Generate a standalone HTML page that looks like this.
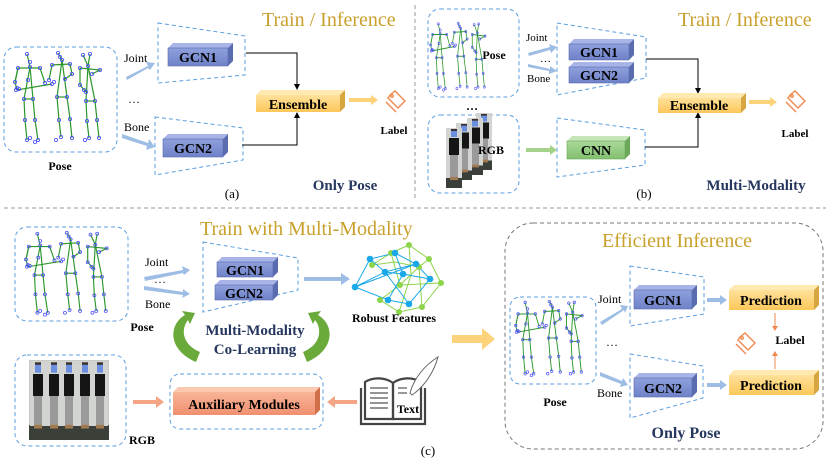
<!DOCTYPE html>
<html><head><meta charset="utf-8"><style>
html,body{margin:0;padding:0;background:#fff;}
svg{display:block;}
text{font-family:"Liberation Serif",serif;}
.b{font-weight:bold;}
</style></head><body>
<svg width="830" height="467" viewBox="0 0 830 467" xmlns="http://www.w3.org/2000/svg">
<defs>
<linearGradient id="gb" x1="0" y1="0" x2="0" y2="1"><stop offset="0" stop-color="#8fa0dc"/><stop offset="1" stop-color="#6f82c8"/></linearGradient>
<linearGradient id="gy" x1="0" y1="0" x2="0" y2="1"><stop offset="0" stop-color="#ffe19a"/><stop offset="1" stop-color="#fcc75a"/></linearGradient>
<linearGradient id="gg" x1="0" y1="0" x2="0" y2="1"><stop offset="0" stop-color="#a9d99a"/><stop offset="1" stop-color="#83c070"/></linearGradient>
<linearGradient id="go" x1="0" y1="0" x2="0" y2="1"><stop offset="0" stop-color="#f9b497"/><stop offset="1" stop-color="#f09070"/></linearGradient>
<g id="sk" transform="translate(-14,-50)" fill="none">
 <g stroke="#2a962a" stroke-width="1.2">
  <polyline points="27,54 30,67 24,99 25,120 27,140"/><polyline points="30,67 33,99 35,120 38,140"/>
  <polyline points="15,82 18,68 40,68 45,83"/><polyline points="18,68 15,82 17,90 52,84"/><line x1="24" y1="99" x2="33" y2="99"/>
  <polyline points="58,53 62,60 57,97 59,120 61,137"/><polyline points="62,60 67,97 70,119 72,138"/>
  <polyline points="49,80 52,65 70,64 72,74 65,79"/><line x1="57" y1="97" x2="67" y2="97"/>
  <polyline points="83,55 88,66 86,101 87,121 89,138"/><polyline points="90,54 88,66"/><polyline points="88,66 95,101 97,120 99,138"/>
  <polyline points="86,92 80,85 80,68 100,70 92,74"/><line x1="86" y1="101" x2="95" y2="101"/>
 </g>
 <g stroke="#4a4aff" stroke-width="0.8">
  <circle cx="27" cy="54" r="1.6"/><circle cx="30" cy="62" r="1.6"/><circle cx="30" cy="67" r="1.6"/><circle cx="18" cy="68" r="1.6"/><circle cx="40" cy="68" r="1.6"/><circle cx="15" cy="82" r="1.6"/><circle cx="17" cy="88" r="1.6"/><circle cx="16" cy="90" r="1.6"/><circle cx="19" cy="89" r="1.6"/><circle cx="45" cy="83" r="1.6"/><circle cx="28" cy="80" r="1.6"/><circle cx="24" cy="99" r="1.6"/><circle cx="33" cy="99" r="1.6"/><circle cx="25" cy="120" r="1.6"/><circle cx="35" cy="120" r="1.6"/><circle cx="27" cy="140" r="1.6"/><circle cx="38" cy="140" r="1.6"/><circle cx="30" cy="138" r="1.6"/><circle cx="35" cy="142" r="1.6"/>
  <circle cx="58" cy="53" r="1.6"/><circle cx="60" cy="57" r="1.6"/><circle cx="62" cy="60" r="1.6"/><circle cx="52" cy="65" r="1.6"/><circle cx="70" cy="64" r="1.6"/><circle cx="49" cy="80" r="1.6"/><circle cx="52" cy="84" r="1.6"/><circle cx="54" cy="82" r="1.6"/><circle cx="72" cy="74" r="1.6"/><circle cx="65" cy="79" r="1.6"/><circle cx="57" cy="97" r="1.6"/><circle cx="67" cy="97" r="1.6"/><circle cx="59" cy="120" r="1.6"/><circle cx="70" cy="119" r="1.6"/><circle cx="61" cy="137" r="1.6"/><circle cx="72" cy="138" r="1.6"/><circle cx="56" cy="140" r="1.6"/>
  <circle cx="83" cy="55" r="1.6"/><circle cx="90" cy="54" r="1.6"/><circle cx="88" cy="66" r="1.6"/><circle cx="80" cy="68" r="1.6"/><circle cx="100" cy="70" r="1.6"/><circle cx="80" cy="85" r="1.6"/><circle cx="86" cy="92" r="1.6"/><circle cx="84" cy="90" r="1.6"/><circle cx="92" cy="74" r="1.6"/><circle cx="86" cy="101" r="1.6"/><circle cx="95" cy="101" r="1.6"/><circle cx="87" cy="121" r="1.6"/><circle cx="97" cy="120" r="1.6"/><circle cx="89" cy="138" r="1.6"/><circle cx="99" cy="138" r="1.6"/><circle cx="85" cy="140" r="1.6"/>
 </g>
</g>
<g id="person">
 <rect x="0" y="0" width="16" height="60" fill="#d2d4d2"/>
 <rect x="5" y="1" width="6" height="2" fill="#3a3030"/>
 <rect x="5" y="3" width="6" height="6" fill="#6a8fe0"/>
 <rect x="3" y="10" width="10" height="17" fill="#151515"/>
 <rect x="4" y="27" width="8" height="22" fill="#9a9a9a"/>
 <rect x="0" y="50" width="16" height="10" fill="#3a3f3a"/>
 <rect x="4" y="49" width="8" height="3" fill="#a07a50"/>
</g>
<g id="tag" fill="none" stroke="#f08a50" stroke-width="1.4">
 <path d="M0,-5 L5,-9 L15,1 L8,8 L-2,-2 Z"/><circle cx="2" cy="-4" r="1.3"/><path d="M-4,2 L6,12"/>
</g>
</defs>

<!-- dividers -->
<line x1="415" y1="5" x2="415" y2="200" stroke="#999" stroke-dasharray="4,3"/>
<line x1="4" y1="208" x2="826" y2="208" stroke="#999" stroke-dasharray="4,3"/>

<!-- ===== (a) ===== -->
<text x="262" y="26" font-size="20" fill="#c9a02c">Train / Inference</text>
<rect x="4" y="47" width="113" height="105" rx="12" fill="none" stroke="#5a9ee0" stroke-dasharray="4,3"/>
<use href="#sk" transform="translate(14,50)"/>
<text x="60" y="170" font-size="12" text-anchor="middle" class="b">Pose</text>
<text x="124" y="62" font-size="12">Joint</text>
<text x="128" y="103" font-size="12">…</text>
<text x="124" y="131" font-size="12">Bone</text>
<path d="M126,77 L148,66 L146,62 L155,63 L150,70 L148,68 L127,80 Z" fill="#9dbde4"/>
<path d="M122,134 L148,143 L149,139 L155,147 L146,150 L147,146 L122,138 Z" fill="#9dbde4"/>
<path d="M158,23 L245,36 L245,75 L158,83 Z" fill="none" stroke="#5a9ee0" stroke-dasharray="4,3"/>
<path d="M155,117 L243,128 L243,160 L155,175 Z" fill="none" stroke="#5a9ee0" stroke-dasharray="4,3"/>
<g><polygon points="168,48 173,43 233,43 228,48" fill="#a8b4e8"/><polygon points="228,48 233,43 233,61 228,66" fill="#5a6cb0"/><rect x="168" y="48" width="60" height="18" fill="url(#gb)" stroke="#5a6cb0" stroke-width="0.6"/><text x="198" y="62" font-size="14" text-anchor="middle" class="b">GCN1</text></g>
<g><polygon points="163,139 168,134 228,134 223,139" fill="#a8b4e8"/><polygon points="223,139 228,134 228,152 223,157" fill="#5a6cb0"/><rect x="163" y="139" width="60" height="18" fill="url(#gb)" stroke="#5a6cb0" stroke-width="0.6"/><text x="193" y="153" font-size="14" text-anchor="middle" class="b">GCN2</text></g>
<polyline points="246,53 297,53 297,87" fill="none" stroke="#000"/><polygon points="294,84 300,84 297,90" fill="#000"/>
<polyline points="242,145 297,145 297,115" fill="none" stroke="#000"/><polygon points="294,118 300,118 297,112" fill="#000"/>
<g><polygon points="256,95 261,90 345,90 340,95" fill="#ffe9b0"/><polygon points="340,95 345,90 345,107 340,112" fill="#d8a640"/><rect x="256" y="95" width="84" height="17" fill="url(#gy)"/><text x="298" y="109" font-size="14" text-anchor="middle" class="b">Ensemble</text></g>
<path d="M349,98 L371,98 L371,95 L378,100 L371,105 L371,102 L349,102 Z" fill="#fcd27a"/>
<use href="#tag" transform="translate(390,100)"/>
<text x="394" y="134" font-size="11" text-anchor="middle" class="b">Label</text>
<text x="345" y="190" font-size="15" text-anchor="middle" class="b" fill="#26375f">Only Pose</text>
<text x="232" y="198" font-size="13" text-anchor="middle">(a)</text>

<!-- ===== (b) ===== -->
<text x="678" y="26" font-size="20" fill="#c9a02c">Train / Inference</text>
<rect x="428" y="9" width="91" height="88" rx="12" fill="none" stroke="#5a9ee0" stroke-dasharray="4,3"/>
<use href="#sk" transform="translate(430,21) scale(0.64,0.75)"/>
<text x="494" y="59" font-size="12" text-anchor="middle" class="b">Pose</text>
<text x="472" y="110" font-size="12" text-anchor="middle" class="b">…</text>
<rect x="428" y="115" width="91" height="78" rx="12" fill="none" stroke="#5a9ee0" stroke-dasharray="4,3"/>
<use href="#person" transform="translate(476,113) scale(1,0.95)"/>
<use href="#person" transform="translate(467,118) scale(1,0.95)"/>
<use href="#person" transform="translate(456,123) scale(1,0.95)"/>
<use href="#person" transform="translate(446,128) scale(1,1)"/>
<text x="491" y="154" font-size="12" text-anchor="middle" class="b">RGB</text>
<text x="526" y="41" font-size="11">Joint</text>
<text x="540" y="62" font-size="11">…</text>
<text x="527" y="82" font-size="11">Bone</text>
<path d="M528,53 L550,47 L549,44 L557,47 L551,53 L550,50 L529,56 Z" fill="#9dbde4"/>
<path d="M528,64 L550,69 L550,66 L557,71 L549,74 L549,71 L528,67 Z" fill="#9dbde4"/>
<path d="M557,23 L646,37 L646,78 L557,95 Z" fill="none" stroke="#5a9ee0" stroke-dasharray="4,3"/>
<g><polygon points="569,44 574,39 634,39 629,44" fill="#a8b4e8"/><polygon points="629,44 634,39 634,55 629,60" fill="#5a6cb0"/><rect x="569" y="44" width="60" height="16" fill="url(#gb)" stroke="#5a6cb0" stroke-width="0.6"/><text x="599" y="57" font-size="14" text-anchor="middle" class="b">GCN1</text></g>
<g><polygon points="569,67 574,62 634,62 629,67" fill="#a8b4e8"/><polygon points="629,67 634,62 634,78 629,83" fill="#5a6cb0"/><rect x="569" y="67" width="60" height="16" fill="url(#gb)" stroke="#5a6cb0" stroke-width="0.6"/><text x="599" y="80" font-size="14" text-anchor="middle" class="b">GCN2</text></g>
<path d="M557,118 L645,130 L645,165 L557,177 Z" fill="none" stroke="#5a9ee0" stroke-dasharray="4,3"/>
<path d="M526,148 L550,148 L550,145 L557,150 L550,155 L550,152 L526,152 Z" fill="#a5d28a"/>
<g><polygon points="567,141 572,136 630,136 625,141" fill="#c6e6b8"/><polygon points="625,141 630,136 630,154 625,159" fill="#6aa85a"/><rect x="567" y="141" width="58" height="18" fill="url(#gg)" stroke="#6aa85a" stroke-width="0.6"/><text x="596" y="155" font-size="14" text-anchor="middle" class="b">CNN</text></g>
<polyline points="646,59 698,59 698,90" fill="none" stroke="#000"/><polygon points="695,88 701,88 698,94" fill="#000"/>
<polyline points="645,147 698,147 698,116" fill="none" stroke="#000"/><polygon points="695,118 701,118 698,112" fill="#000"/>
<g><polygon points="658,98 663,93 746,93 741,98" fill="#ffe9b0"/><polygon points="741,98 746,93 746,108 741,113" fill="#d8a640"/><rect x="658" y="98" width="83" height="15" fill="url(#gy)"/><text x="699" y="110" font-size="14" text-anchor="middle" class="b">Ensemble</text></g>
<path d="M749,100 L770,100 L770,97 L777,102 L770,107 L770,104 L749,104 Z" fill="#fcd27a"/>
<use href="#tag" transform="translate(790,100)"/>
<text x="795" y="137" font-size="11" text-anchor="middle" class="b">Label</text>
<text x="756" y="190" font-size="15" text-anchor="middle" class="b" fill="#26375f">Multi-Modality</text>
<text x="644" y="198" font-size="13" text-anchor="middle">(b)</text>

<!-- ===== (c) left ===== -->
<text x="200" y="235" font-size="20" fill="#c9a02c">Train with Multi-Modality</text>
<rect x="15" y="227" width="113" height="94" rx="12" fill="none" stroke="#5a9ee0" stroke-dasharray="4,3"/>
<use href="#sk" transform="translate(25,230) scale(0.95,0.92)"/>
<text x="142" y="331" font-size="12" text-anchor="middle" class="b">Pose</text>
<text x="145" y="266" font-size="12">Joint</text>
<text x="154" y="283" font-size="12">…</text>
<text x="145" y="308" font-size="12">Bone</text>
<path d="M144,277 L183,270 L182,266 L190,270 L184,275 L183,273 L145,281 Z" fill="#9dbde4"/>
<path d="M144,286 L183,292 L183,289 L190,294 L182,298 L183,295 L144,290 Z" fill="#9dbde4"/>
<path d="M203,242 L298,258 L298,290 L203,312 Z" fill="none" stroke="#5a9ee0" stroke-dasharray="4,3"/>
<g><polygon points="217,262 222,257 278,257 273,262" fill="#a8b4e8"/><polygon points="273,262 278,257 278,272 273,277" fill="#5a6cb0"/><rect x="217" y="262" width="56" height="15" fill="url(#gb)" stroke="#5a6cb0" stroke-width="0.6"/><text x="245" y="275" font-size="14" text-anchor="middle" class="b">GCN1</text></g>
<g><polygon points="215,285 220,280 278,280 273,285" fill="#a8b4e8"/><polygon points="273,285 278,280 278,295 273,300" fill="#5a6cb0"/><rect x="215" y="285" width="58" height="15" fill="url(#gb)" stroke="#5a6cb0" stroke-width="0.6"/><text x="244" y="298" font-size="14" text-anchor="middle" class="b">GCN2</text></g>
<path d="M304,277 L341,277 L341,273 L350,279 L341,285 L341,281 L304,281 Z" fill="#9dbde4"/>
<!-- network -->
<g stroke-width="1">
 <g stroke="#8cd44a" fill="none"><polyline points="372,265 391,253 409,245 429,259 441,283 422,307 399,312 380,300"/><polyline points="372,265 395,262 419,267 429,259"/><polyline points="380,300 400,285 419,267 422,307"/><polyline points="391,253 400,285 441,283"/><polyline points="409,245 411,275 399,312"/></g>
 <g stroke="#1aa8e8" fill="none"><polyline points="355,287 370,259 395,253 416,264 430,279 409,304 388,300 355,287"/><polyline points="370,259 385,272 416,264"/><polyline points="355,287 385,272 409,304"/><polyline points="395,253 403,274 430,279"/><polyline points="388,300 403,274 385,272"/><line x1="355" y1="287" x2="416" y2="264"/></g>
 <g fill="#8cd44a"><circle cx="372" cy="265" r="3"/><circle cx="391" cy="253" r="3"/><circle cx="409" cy="245" r="3"/><circle cx="429" cy="259" r="3"/><circle cx="441" cy="283" r="3"/><circle cx="422" cy="307" r="3"/><circle cx="399" cy="312" r="3"/><circle cx="380" cy="300" r="3"/><circle cx="419" cy="267" r="3"/><circle cx="400" cy="285" r="3"/></g>
 <g fill="#1aa8e8"><circle cx="355" cy="287" r="3.3"/><circle cx="370" cy="259" r="3.3"/><circle cx="395" cy="253" r="3.3"/><circle cx="416" cy="264" r="3.3"/><circle cx="430" cy="279" r="3.3"/><circle cx="409" cy="304" r="3.3"/><circle cx="388" cy="300" r="3.3"/><circle cx="385" cy="272" r="3.3"/><circle cx="403" cy="274" r="3.3"/></g>
</g>
<text x="394" y="322" font-size="12" text-anchor="middle" class="b">Robust Features</text>
<!-- co-learning arrows -->
<path d="M196,362 C168,350 168,325 185,315 L182,311 L195,313 L190,324 L188,320 C180,330 183,345 200,352 Z" fill="#6aaa3a"/>
<path d="M307,362 C335,350 335,325 318,315 L321,311 L308,313 L313,324 L315,320 C323,330 320,345 303,352 Z" fill="#6aaa3a"/>
<text x="255" y="335" font-size="15" text-anchor="middle" class="b" fill="#26375f">Multi-Modality</text>
<text x="255" y="354" font-size="15" text-anchor="middle" class="b" fill="#26375f">Co-Learning</text>
<!-- RGB -->
<rect x="15" y="355" width="111" height="91" rx="12" fill="none" stroke="#5a9ee0" stroke-dasharray="4,3"/>
<rect x="29" y="360" width="80" height="80" fill="#c8cac6"/>
<rect x="29" y="425" width="80" height="15" fill="#3a4038"/>
<use href="#person" transform="translate(30,361) scale(1,1.3)"/>
<use href="#person" transform="translate(46,361) scale(1,1.3)"/>
<use href="#person" transform="translate(61,361) scale(1,1.3)"/>
<use href="#person" transform="translate(77,361) scale(1,1.3)"/>
<use href="#person" transform="translate(92,361) scale(1,1.3)"/>
<text x="142" y="444" font-size="12" text-anchor="middle" class="b">RGB</text>
<path d="M133,400 L156,400 L156,396 L164,402 L156,408 L156,404 L133,404 Z" fill="#f4a585"/>
<rect x="170" y="374" width="153" height="55" rx="10" fill="none" stroke="#5a9ee0" stroke-dasharray="4,3"/>
<g><polygon points="173,392 178,387 320,387 315,392" fill="#fbc8b0"/><polygon points="315,392 320,387 320,410 315,415" fill="#d0704a"/><rect x="173" y="392" width="142" height="23" fill="url(#go)"/><text x="244" y="409" font-size="14" text-anchor="middle" class="b">Auxiliary Modules</text></g>
<path d="M357,400 L335,400 L335,396 L327,402 L335,408 L335,404 L357,404 Z" fill="#f4a585"/>
<!-- book -->
<g fill="none" stroke="#444" stroke-width="2.2">
 <path d="M365,382 L365,419 L393,419 L393,383 C385,377 373,377 365,382 Z"/>
 <path d="M421,382 L421,419 L393,419 L393,383 C401,377 413,377 421,382 Z"/>
 <path d="M361,388 L361,424 L425,424 L425,388"/>
</g>
<g stroke="#555" stroke-width="1.2"><line x1="370" y1="388" x2="388" y2="388"/><line x1="370" y1="393" x2="388" y2="393"/><line x1="370" y1="398" x2="388" y2="398"/><line x1="370" y1="403" x2="388" y2="403"/><line x1="370" y1="408" x2="388" y2="408"/><line x1="398" y1="388" x2="407" y2="388"/><line x1="398" y1="393" x2="407" y2="393"/></g>
<path d="M410,393 C414,378 425,365 438,357 C434,372 424,387 412,395 Z" fill="#fff" stroke="#666" stroke-width="1"/>
<text x="408" y="413" font-size="12" text-anchor="middle" class="b">Text</text>
<text x="428" y="455" font-size="13" text-anchor="middle">(c)</text>
<!-- big yellow arrow -->
<path d="M452,335 L482,335 L482,328 L495,339 L482,350 L482,343 L452,343 Z" fill="#fcd27a"/>

<!-- ===== right panel ===== -->
<rect x="505" y="223" width="318" height="226" rx="28" fill="none" stroke="#777" stroke-dasharray="4,3"/>
<text x="677" y="247" font-size="20" fill="#c9a02c" text-anchor="middle">Efficient Inference</text>
<rect x="510" y="297" width="86" height="87" rx="10" fill="none" stroke="#5a9ee0" stroke-dasharray="4,3"/>
<use href="#sk" transform="translate(515,299) scale(0.78,0.83)"/>
<text x="555" y="406" font-size="12" text-anchor="middle" class="b">Pose</text>
<text x="598" y="303" font-size="12">Joint</text>
<text x="606" y="346" font-size="12">…</text>
<text x="597" y="397" font-size="12">Bone</text>
<path d="M600,322 L622,309 L620,305 L628,306 L625,313 L624,310 L602,325 Z" fill="#9dbde4"/>
<path d="M600,372 L622,381 L623,378 L628,385 L620,387 L621,384 L600,376 Z" fill="#9dbde4"/>
<path d="M630,266 L704,277 L704,314 L630,326 Z" fill="none" stroke="#5a9ee0" stroke-dasharray="4,3"/>
<path d="M630,354 L703,366 L703,398 L630,418 Z" fill="none" stroke="#5a9ee0" stroke-dasharray="4,3"/>
<g><polygon points="634,290 639,285 697,285 692,290" fill="#a8b4e8"/><polygon points="692,290 697,285 697,304 692,309" fill="#5a6cb0"/><rect x="634" y="290" width="58" height="19" fill="url(#gb)" stroke="#5a6cb0" stroke-width="0.6"/><text x="663" y="305" font-size="14" text-anchor="middle" class="b">GCN1</text></g>
<g><polygon points="634,378 639,373 697,373 692,378" fill="#a8b4e8"/><polygon points="692,378 697,373 697,392 692,397" fill="#5a6cb0"/><rect x="634" y="378" width="58" height="19" fill="url(#gb)" stroke="#5a6cb0" stroke-width="0.6"/><text x="663" y="393" font-size="14" text-anchor="middle" class="b">GCN2</text></g>
<path d="M707,298 L720,298 L720,295 L727,300 L720,305 L720,302 L707,302 Z" fill="#9dbde4"/>
<path d="M707,383 L720,383 L720,380 L727,385 L720,390 L720,387 L707,387 Z" fill="#9dbde4"/>
<g><polygon points="729,290 734,285 819,285 814,290" fill="#ffe9b0"/><polygon points="814,290 819,285 819,305 814,310" fill="#d8a640"/><rect x="729" y="290" width="85" height="20" fill="url(#gy)"/><text x="771" y="305" font-size="14" text-anchor="middle" class="b">Prediction</text></g>
<g><polygon points="729,375 734,370 819,370 814,375" fill="#ffe9b0"/><polygon points="814,375 819,370 819,390 814,395" fill="#d8a640"/><rect x="729" y="375" width="85" height="20" fill="url(#gy)"/><text x="771" y="390" font-size="14" text-anchor="middle" class="b">Prediction</text></g>
<line x1="775" y1="313" x2="775" y2="327" stroke="#f08a50"/><polygon points="772,326 778,326 775,331" fill="#f08a50"/>
<line x1="775" y1="369" x2="775" y2="355" stroke="#f08a50"/><polygon points="772,356 778,356 775,351" fill="#f08a50"/>
<use href="#tag" transform="translate(740,342)"/>
<text x="790" y="344" font-size="12" text-anchor="middle" class="b">Label</text>
<text x="686" y="438" font-size="16" text-anchor="middle" class="b" fill="#26375f">Only Pose</text>
</svg>
</body></html>
